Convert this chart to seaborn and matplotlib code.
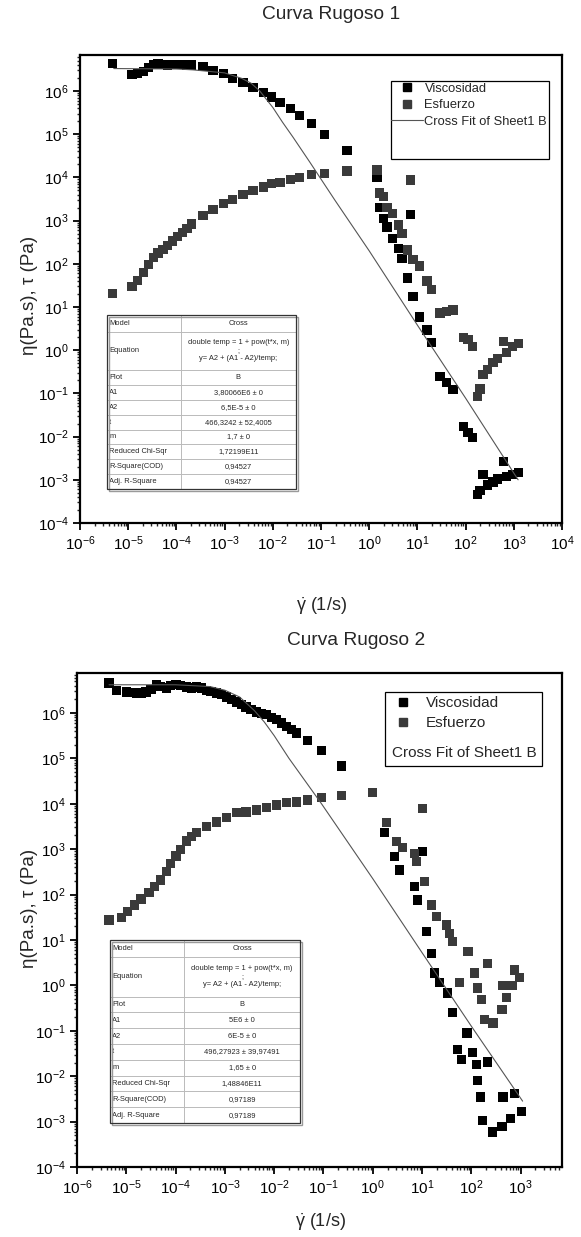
"""
Curva Rugoso 1 / Curva Rugoso 2 - viscosity and stress vs shear rate
with the Cross fit and the fit-parameter table (Origin style).
"""
import numpy as np
import matplotlib
matplotlib.use("Agg")
import matplotlib.pyplot as plt
import seaborn as sns
from matplotlib.lines import Line2D
from matplotlib.patches import Rectangle
from matplotlib.ticker import LogLocator, NullFormatter

# ---- data (log10 values) ----
# Curva Rugoso 1
r1_visc_x = [-5.32, -4.92, -4.80, -4.68, -4.58, -4.48, -4.38, -4.28, -4.18, -4.08,
             -3.98, -3.88, -3.78, -3.68, -3.45, -3.24, -3.03, -2.83, -2.62, -2.41,
             -2.20, -2.03, -1.85, -1.64, -1.44, -1.19, -0.92, -0.46, 0.16, 0.85,
             0.22, 0.29, 0.37, 0.49, 0.60, 0.68, 0.80, 0.91, 1.05, 1.20,
             1.30, 1.47, 1.60, 1.74, 1.95, 2.05, 2.15, 2.24, 2.30, 2.36,
             2.45, 2.57, 2.66, 2.78, 2.85, 2.98, 3.09]
r1_visc_y = [6.64, 6.38, 6.40, 6.45, 6.55, 6.62, 6.63, 6.61, 6.60, 6.61,
             6.62, 6.61, 6.60, 6.60, 6.57, 6.48, 6.41, 6.29, 6.20, 6.09,
             5.97, 5.86, 5.74, 5.60, 5.44, 5.25, 5.00, 4.63, 4.00, 3.15,
             3.31, 3.05, 2.85, 2.59, 2.35, 2.13, 1.67, 1.24, 0.77, 0.47,
             0.17, -0.61, -0.75, -0.91, -1.77, -1.90, -2.02, -3.34, -3.25, -2.87,
             -3.12, -3.05, -2.98, -2.57, -2.93, -2.87, -2.84]
r1_stress_x = r1_visc_x
r1_stress_y = [1.32, 1.48, 1.62, 1.80, 1.99, 2.14, 2.25, 2.33, 2.42, 2.53,
               2.64, 2.73, 2.82, 2.92, 3.12, 3.26, 3.40, 3.48, 3.60, 3.69,
               3.78, 3.85, 3.89, 3.95, 4.00, 4.06, 4.09, 4.15, 4.17, 3.94,
               3.64, 3.55, 3.31, 3.17, 2.90, 2.71, 2.32, 2.10, 1.95, 1.60,
               1.40, 0.86, 0.90, 0.93, 0.30, 0.24, 0.08, -1.07, -0.90, -0.57,
               -0.45, -0.29, -0.20, 0.20, -0.05, 0.08, 0.15]
r1_fit_x = [-5.30, -4.00, -3.66, -3.00, -2.64, -2.45, -2.27, -2.00, -1.80, -1.58,
            -1.23, -0.71, 0.00, 1.00, 2.00, 3.09]
r1_fit_y = [6.52, 6.51, 6.49, 6.42, 6.29, 6.18, 6.00, 5.62, 5.28, 4.93,
            4.35, 3.47, 2.30, 0.58, -1.11, -3.00]
r1_table = [("Model", "Cross"),
            ("Equation", "double temp = 1 + pow(t*x, m)\n;\ny= A2 + (A1 - A2)/temp;"),
            ("Plot", "B"),
            ("A1", "3,80066E6 ± 0"),
            ("A2", "6,5E-5 ± 0"),
            ("t", "466,3242 ± 52,4005"),
            ("m", "1,7 ± 0"),
            ("Reduced Chi-Sqr", "1,72199E11"),
            ("R-Square(COD)", "0,94527"),
            ("Adj. R-Square", "0,94527")]

# Curva Rugoso 2
r2_visc_x = [-5.35, -5.20, -5.00, -4.90, -4.80, -4.70, -4.60, -4.50, -4.39, -4.30,
             -4.19, -4.10, -3.99, -3.90, -3.78, -3.68, -3.58, -3.48, -3.38, -3.28,
             -3.17, -3.07, -2.97, -2.87, -2.77, -2.67, -2.57, -2.47, -2.36, -2.26,
             -2.16, -2.06, -1.96, -1.85, -1.75, -1.65, -1.55, -1.33, -1.04, -0.63,
             1.01, 0.24, 0.44, 0.54, 0.85, 0.91, 1.09, 1.19, 1.26, 1.36,
             1.52, 1.62, 1.72, 1.80, 1.91, 2.03, 2.11, 2.13, 2.19, 2.23,
             2.33, 2.43, 2.62, 2.64, 2.80, 2.88, 3.02]
r2_visc_y = [6.66, 6.50, 6.46, 6.45, 6.44, 6.43, 6.46, 6.52, 6.62, 6.58,
             6.55, 6.60, 6.62, 6.60, 6.57, 6.55, 6.57, 6.55, 6.50, 6.48,
             6.44, 6.40, 6.35, 6.30, 6.24, 6.18, 6.13, 6.08, 6.02, 5.99,
             5.96, 5.90, 5.85, 5.78, 5.70, 5.63, 5.56, 5.40, 5.18, 4.83,
             2.94, 3.36, 2.83, 2.54, 2.17, 1.88, 1.18, 0.71, 0.27, 0.07,
             -0.17, -0.59, -1.42, -1.64, -1.05, -1.47, -1.75, -2.10, -2.46, -2.98,
             -1.69, -3.23, -3.10, -2.46, -2.94, -2.39, -2.77]
r2_stress_x = [-5.35, -5.10, -4.98, -4.84, -4.70, -4.54, -4.42, -4.30, -4.19, -4.10,
               -3.99, -3.90, -3.78, -3.68, -3.58, -3.38, -3.17, -2.97, -2.77, -2.57,
               -2.36, -2.16, -1.96, -1.75, -1.55, -1.33, -1.04, -0.63, 0.00, 1.01,
               0.28, 0.48, 0.60, 0.85, 0.89, 1.05, 1.19, 1.30, 1.50, 1.56,
               1.62, 1.76, 1.93, 2.07, 2.13, 2.21, 2.27, 2.33, 2.44, 2.62,
               2.64, 2.72, 2.84, 2.88, 2.98]
r2_stress_y = [1.44, 1.50, 1.62, 1.77, 1.90, 2.04, 2.18, 2.32, 2.50, 2.68,
               2.85, 3.00, 3.18, 3.28, 3.36, 3.49, 3.60, 3.69, 3.80, 3.82,
               3.86, 3.91, 3.97, 4.02, 4.04, 4.08, 4.13, 4.19, 4.24, 3.90,
               3.58, 3.16, 3.03, 2.91, 2.72, 2.28, 1.77, 1.51, 1.33, 1.15,
               0.96, 0.07, 0.74, 0.27, -0.06, -0.32, -0.76, 0.49, -0.83, -0.54,
               0.00, -0.26, 0.00, 0.34, 0.18]
r2_fit_x = [-5.35, -4.00, -3.30, -3.00, -2.70, -2.40, -2.20, -2.00, -1.70, -1.04,
            0.00, 1.00, 2.00, 3.04]
r2_fit_y = [6.62, 6.62, 6.58, 6.50, 6.35, 6.05, 5.80, 5.50, 5.00, 4.00,
            2.35, 0.72, -0.90, -2.55]
r2_table = [("Model", "Cross"),
            ("Equation", "double temp = 1 + pow(t*x, m)\n;\ny= A2 + (A1 - A2)/temp;"),
            ("Plot", "B"),
            ("A1", "5E6 ± 0"),
            ("A2", "6E-5 ± 0"),
            ("t", "496,27923 ± 39,97491"),
            ("m", "1,65 ± 0"),
            ("Reduced Chi-Sqr", "1,48846E11"),
            ("R-Square(COD)", "0,97189"),
            ("Adj. R-Square", "0,97189")]

VISC_COLOR = "#000000"
STRESS_COLOR = "#3a3a3a"
FIT_COLOR = "#555555"

sns.set_style("ticks")
plt.rcParams["font.family"] = ["Liberation Sans", "DejaVu Sans"]
plt.rcParams["mathtext.fontset"] = "custom"
plt.rcParams["mathtext.rm"] = "Liberation Sans"
plt.rcParams["mathtext.it"] = "Liberation Sans:italic"
plt.rcParams["mathtext.default"] = "regular"
plt.rcParams["axes.unicode_minus"] = False


def style_axes(ax, xmax, ymax, xlab_pos, ylab_pos):
    ax.set_xscale("log")
    ax.set_yscale("log")
    ax.set_xlim(1e-6, xmax)
    ax.set_ylim(1e-4, ymax)
    for axis in (ax.xaxis, ax.yaxis):
        axis.set_major_locator(LogLocator(base=10, numticks=30))
        axis.set_minor_locator(LogLocator(base=10, subs=np.arange(2, 10), numticks=30))
        axis.set_minor_formatter(NullFormatter())
    for sp in ax.spines.values():
        sp.set_linewidth(1.6)
        sp.set_color("black")
    ax.tick_params(which="major", direction="out", length=5, width=1.3,
                   labelsize=11, colors="black", top=False, right=False, pad=3)
    ax.tick_params(which="minor", direction="out", length=2.5, width=1.0,
                   top=False, right=False)
    ax.set_xlabel(r"$\dot{\gamma}$ (1/s)", fontsize=13)
    ax.set_ylabel("η(Pa.s), τ (Pa)", fontsize=13.5)
    ax.xaxis.set_label_coords(*xlab_pos)
    ax.xaxis.label.set_va("center")
    ax.yaxis.set_label_coords(*ylab_pos)
    ax.yaxis.label.set_va("center")


def draw_data(ax, vx, vy, sx, sy, fx, fy):
    sns.scatterplot(x=10 ** np.array(vx), y=10 ** np.array(vy), marker="s", s=44,
                    color=VISC_COLOR, edgecolor="none", ax=ax, zorder=3, legend=False)
    sns.scatterplot(x=10 ** np.array(sx), y=10 ** np.array(sy), marker="s", s=44,
                    color=STRESS_COLOR, edgecolor="none", ax=ax, zorder=3, legend=False)
    sns.lineplot(x=10 ** np.array(fx), y=10 ** np.array(fy), sort=False, color=FIT_COLOR,
                 lw=0.8, ax=ax, zorder=4, legend=False)


def draw_table(ax, rows, bbox, heights):
    tbl = ax.table(cellText=[list(r) for r in rows], colWidths=[0.39, 0.61],
                   cellLoc="center", bbox=bbox, zorder=6)
    tbl.auto_set_font_size(False)
    tbl.set_fontsize(5.4)
    for (r, c), cell in tbl.get_celld().items():
        cell.set_height(heights[r])
        cell.set_edgecolor("#b5b5b5")
        cell.set_linewidth(0.6)
        cell.PAD = 0.03
        if c == 0:
            cell._loc = "left"
            cell.get_text().set_ha("left")
    x0, y0, w, h = bbox
    ax.add_patch(Rectangle((x0 + 0.004, y0 - 0.004), w, h, transform=ax.transAxes,
                           fill=False, edgecolor="#9a9a9a", lw=1.0, zorder=6.5,
                           clip_on=False))
    ax.add_patch(Rectangle((x0, y0), w, h, transform=ax.transAxes, fill=False,
                           edgecolor="#333333", lw=0.9, zorder=7, clip_on=False))


fig = plt.figure(figsize=(5.81, 12.37), dpi=100)
ax1 = fig.add_axes([0.1377, 0.5772, 0.8296, 0.3783])
ax2 = fig.add_axes([0.1325, 0.0566, 0.8348, 0.3994])

# ---------------- panel 1 ----------------
draw_data(ax1, r1_visc_x, r1_visc_y, r1_stress_x, r1_stress_y, r1_fit_x, r1_fit_y)
style_axes(ax1, 1e4, 6.8e6, (0.5, -0.177), (-0.104, 0.487))
handles1 = [Line2D([], [], marker="s", ls="none", color=VISC_COLOR, ms=6),
            Line2D([], [], marker="s", ls="none", color=STRESS_COLOR, ms=6),
            Line2D([], [], color=FIT_COLOR, lw=0.8)]
ax1.legend(handles1, ["Viscosidad", "Esfuerzo", "Cross Fit of Sheet1 B"],
           loc="upper left", bbox_to_anchor=(0.645, 0.941), frameon=False,
           fontsize=9.3, borderpad=0, borderaxespad=0, handlelength=2.5,
           handletextpad=0.1, labelspacing=0.35, handleheight=0.7)
ax1.add_patch(Rectangle((0.645, 0.778), 0.328, 0.166, transform=ax1.transAxes,
                        fill=False, edgecolor="black", lw=0.9, zorder=5))
h1 = [16.7, 38.3] + [14.9] * 8
draw_table(ax1, r1_table, [0.056, 0.0726, 0.392, 0.3718], h1)

# ---------------- panel 2 ----------------
draw_data(ax2, r2_visc_x, r2_visc_y, r2_stress_x, r2_stress_y, r2_fit_x, r2_fit_y)
style_axes(ax2, 6.9e3, 7.6e6, (0.503, -0.111), (-0.097, 0.524))
handles2 = [Line2D([], [], marker="s", ls="none", color=VISC_COLOR, ms=6),
            Line2D([], [], marker="s", ls="none", color=STRESS_COLOR, ms=6)]
ax2.legend(handles2, ["Viscosidad", "Esfuerzo"], loc="upper left",
           bbox_to_anchor=(0.637, 0.953), frameon=False, fontsize=11,
           borderpad=0, borderaxespad=0, handlelength=2.2, handletextpad=0.4,
           labelspacing=0.4, handleheight=0.7)
ax2.text(0.649, 0.838, "Cross Fit of Sheet1 B", transform=ax2.transAxes,
         fontsize=11, ha="left", va="center", zorder=5)
ax2.add_patch(Rectangle((0.635, 0.8117), 0.324, 0.1498, transform=ax2.transAxes,
                        fill=False, edgecolor="black", lw=0.9, zorder=5))
h2 = [17.3, 39.3] + [15.8] * 8
draw_table(ax2, r2_table, [0.068, 0.0891, 0.392, 0.3704], h2)

fig.text(0.57, 0.9879, "Curva Rugoso 1", ha="center", va="center", fontsize=13.8)
fig.text(0.613, 0.4826, "Curva Rugoso 2", ha="center", va="center", fontsize=13.8)

fig.savefig("out.png", dpi=100)
